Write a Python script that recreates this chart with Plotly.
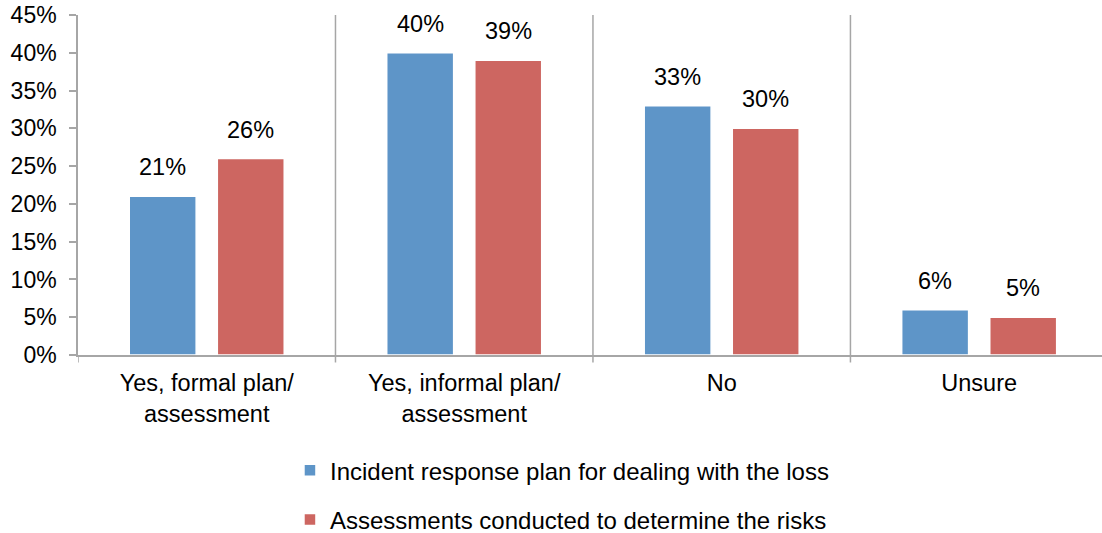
import plotly.graph_objects as go

categories = ["Yes, formal plan/<br>assessment", "Yes, informal plan/<br>assessment", "No", "Unsure"]
incident_plan = [0.21, 0.40, 0.33, 0.06]
risk_assessment = [0.26, 0.39, 0.30, 0.05]
series_names = ["Incident response plan for dealing with the loss",
                "Assessments conducted to determine the risks"]
colors = ["#5E95C8", "#CD6661"]

FONT = "Liberation Sans, Arial, sans-serif"
AXIS_GREY = "#A6A6A6"
FS = 23.5

fig = go.Figure()
for i, (name, vals, col) in enumerate(zip(series_names, [incident_plan, risk_assessment], colors)):
    fig.add_trace(go.Bar(
        name=name, x=list(range(len(categories))), y=vals,
        marker=dict(color=col, line=dict(color="white", width=1.5)),
        legendgroup=f"g{i}",
    ))

# value labels above each bar
slot = (1 - 0.316) / 2
for j, vals in enumerate([incident_plan, risk_assessment]):
    off = (j - 0.5) * slot
    for k, v in enumerate(vals):
        fig.add_annotation(x=k + off, y=v, xref="x", yref="y",
                           text=f"{round(v * 100)}%", showarrow=False,
                           yanchor="middle", yshift=29,
                           font=dict(family=FONT, size=FS, color="#000"))

fig.update_layout(
    width=1102, height=533,
    margin=dict(l=78, r=0, t=15, b=178, autoexpand=False),
    paper_bgcolor="white", plot_bgcolor="white",
    barmode="group", bargap=0.316, bargroupgap=0.24,
    font=dict(family=FONT, size=FS, color="#000"),
    legend=dict(orientation="v", x=0.207, y=0.159, yref="container",
                xanchor="left", yanchor="top",
                tracegroupgap=15, font=dict(size=24), itemwidth=30),
    showlegend=True,
)
fig.update_xaxes(
    range=[-0.5, 3.477], automargin=False,
    tickmode="array", tickvals=list(range(len(categories))), ticktext=categories,
    ticklabelstandoff=6,
    showline=True, linecolor=AXIS_GREY, linewidth=1.5,
    showgrid=False, ticks="", zeroline=False,
)
# category separators and boundary ticks
for b in [0.5, 1.5, 2.5]:
    fig.add_shape(type="line", xref="x", yref="paper", x0=b, x1=b, y0=0, y1=1,
                  line=dict(color=AXIS_GREY, width=1.5))
for b in [-0.5, 0.5, 1.5, 2.5]:
    fig.add_shape(type="line", xref="x", yref="y domain", x0=b, x1=b, y0=0, y1=-0.022,
                  line=dict(color=AXIS_GREY, width=1.5))
fig.update_yaxes(
    range=[0, 0.45], dtick=0.05, tickformat=".0%", automargin=False,
    tickfont=dict(size=23), ticklabelstandoff=8,
    showline=True, linecolor=AXIS_GREY, linewidth=1.5,
    ticks="outside", ticklen=7, tickcolor=AXIS_GREY, tickwidth=1.5,
    showgrid=False, zeroline=False,
)

fig.write_html("out.html")
